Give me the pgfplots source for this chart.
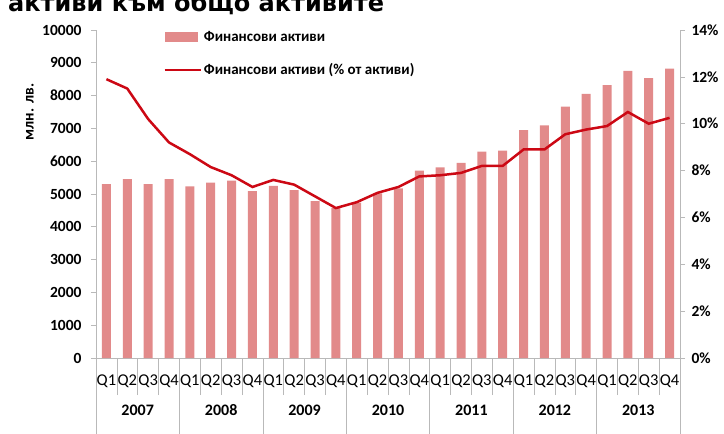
\documentclass[border=0pt]{standalone}
\usepackage{pgfplots}
\pgfplotsset{compat=1.18}
\usepackage{fontspec}
\setmainfont{Carlito}
\newfontfamily\titlefont{DejaVu Sans}
\definecolor{barc}{RGB}{226,138,138}
\definecolor{linec}{RGB}{204,8,20}
\definecolor{axc}{RGB}{185,185,185}
\begin{document}
\begin{tikzpicture}
\useasboundingbox (0,0) rectangle (724bp,434bp);
\node[anchor=base west, inner sep=0pt, font=\titlefont\bfseries\fontsize{24bp}{28bp}\selectfont] at (8bp,422bp) {активи към общо активите};
\begin{axis}[
  at={(96bp,76bp)}, anchor=south west,
  width=584bp, height=328bp, scale only axis,
  xmin=-0.5, xmax=27.5, ymin=0, ymax=10000,
  clip=false,
  axis x line*=bottom, axis y line*=left,
  axis line style={draw=axc, line width=0.8bp},
  ytick={0,1000,...,10000},
  scaled y ticks=false,
  /pgf/number format/assume math mode=true,
  /pgf/number format/1000 sep={},
  yticklabel style={font=\bfseries\fontsize{15.5bp}{18bp}\selectfont, xshift=-6bp},
  xtick={0,...,27},
  xticklabels={Q1,Q2,Q3,Q4,Q1,Q2,Q3,Q4,Q1,Q2,Q3,Q4,Q1,Q2,Q3,Q4,Q1,Q2,Q3,Q4,Q1,Q2,Q3,Q4,Q1,Q2,Q3,Q4},
  xticklabel style={font=\fontsize{16.5bp}{19bp}\selectfont, yshift=-8bp},
  minor xtick={-0.5,0.5,...,27.5},
  tick align=outside,
  major tick length=5bp, minor tick length=37bp,
  tick style={draw=axc, line width=0.7bp},
  every major x tick/.append style={draw=none},
  ybar, bar width=9bp,
  legend style={at={(0.11,1.01)}, anchor=north west, draw=none, fill=none,
    font=\bfseries\fontsize{15bp}{18bp}\selectfont, row sep=17bp,
    /tikz/every even column/.append style={column sep=0bp}},
  legend cell align=left,
]
\addplot[fill=barc, draw=none,
  legend image code/.code={\fill[barc] (0bp,-5bp) rectangle (33bp,5bp);}]
coordinates {
(0,5300) (1,5450) (2,5300) (3,5450)
(4,5230) (5,5350) (6,5410) (7,5090)
(8,5250) (9,5120) (10,4780) (11,4570)
(12,4740) (13,5020) (14,5170) (15,5710)
(16,5810) (17,5950) (18,6290) (19,6320)
(20,6950) (21,7090) (22,7660) (23,8050)
(24,8320) (25,8750) (26,8530) (27,8820)
};
\addlegendentry{Финансови активи}
\addlegendimage{legend image code/.code={\draw[linec, line width=2.5bp] (0bp,0bp) -- (36bp,0bp);}}
\addlegendentry{Финансови активи (\% от активи)}
\pgfplotsinvokeforeach{-0.5,3.5,7.5,11.5,15.5,19.5,23.5,27.5}{
  \draw[axc, line width=0.7bp] (axis cs:#1,0) -- ([yshift=-80bp]axis cs:#1,0);
}
\node[font=\bfseries\fontsize{16bp}{19bp}\selectfont] at (axis cs:1.5,0) [yshift=-52bp] {2007};
\node[font=\bfseries\fontsize{16bp}{19bp}\selectfont] at (axis cs:5.5,0) [yshift=-52bp] {2008};
\node[font=\bfseries\fontsize{16bp}{19bp}\selectfont] at (axis cs:9.5,0) [yshift=-52bp] {2009};
\node[font=\bfseries\fontsize{16bp}{19bp}\selectfont] at (axis cs:13.5,0) [yshift=-52bp] {2010};
\node[font=\bfseries\fontsize{16bp}{19bp}\selectfont] at (axis cs:17.5,0) [yshift=-52bp] {2011};
\node[font=\bfseries\fontsize{16bp}{19bp}\selectfont] at (axis cs:21.5,0) [yshift=-52bp] {2012};
\node[font=\bfseries\fontsize{16bp}{19bp}\selectfont] at (axis cs:25.5,0) [yshift=-52bp] {2013};
\end{axis}
\begin{axis}[
  at={(96bp,76bp)}, anchor=south west,
  width=584bp, height=328bp, scale only axis,
  xmin=-0.5, xmax=27.5, ymin=0, ymax=14,
  axis y line*=right, axis x line=none,
  axis line style={draw=axc, line width=0.8bp},
  ytick={0,2,...,14},
  yticklabel={\pgfmathprintnumber{\tick}\%},
  /pgf/number format/assume math mode=true,
  yticklabel style={font=\bfseries\fontsize{15.5bp}{18bp}\selectfont, xshift=3bp},
  tick align=outside, major tick length=5bp,
  tick style={draw=axc, line width=0.7bp},
]
\addplot[linec, line width=2.5bp, mark=none] coordinates {
(0,11.9) (1,11.5) (2,10.2) (3,9.2)
(4,8.7) (5,8.15) (6,7.8) (7,7.3)
(8,7.6) (9,7.4) (10,6.9) (11,6.4)
(12,6.65) (13,7.05) (14,7.3) (15,7.75)
(16,7.8) (17,7.9) (18,8.2) (19,8.2)
(20,8.9) (21,8.9) (22,9.55) (23,9.75)
(24,9.9) (25,10.5) (26,10.0) (27,10.25)
};
\end{axis}
\node[rotate=90, font=\bfseries\fontsize{15.5bp}{18bp}\selectfont] at (30bp,322bp) {млн. лв.};
\end{tikzpicture}
\end{document}
